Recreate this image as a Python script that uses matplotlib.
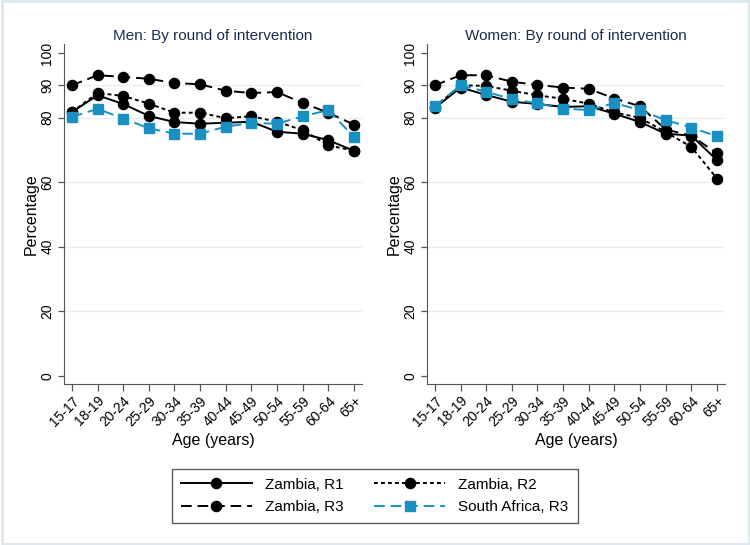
import numpy as np
import matplotlib.pyplot as plt
from matplotlib.patches import Rectangle

plt.rcParams['font.family'] = ['Liberation Sans', 'DejaVu Sans']

# Age groups on the x axis
ages = ['15-17', '18-19', '20-24', '25-29', '30-34', '35-39',
        '40-44', '45-49', '50-54', '55-59', '60-64', '65+']

# Men (percentages)
men_r1 = [81.7, 86.9, 84.2, 80.5, 78.6, 78.1, 78.4, 78.7, 75.6, 75.0, 73.0, 69.7]
men_r2 = [81.7, 87.6, 86.7, 84.3, 81.5, 81.5, 79.8, 80.4, 78.7, 76.1, 71.4, 69.7]
men_r3 = [90.0, 93.1, 92.6, 92.0, 90.7, 90.3, 88.3, 87.6, 87.9, 84.5, 81.5, 77.8]
men_sa = [80.2, 82.7, 79.7, 76.7, 75.0, 75.0, 77.2, 78.3, 78.1, 80.4, 82.3, 74.0]

# Women
women_r1 = [83.0, 89.3, 87.0, 84.9, 84.2, 83.3, 83.5, 81.2, 78.6, 75.0, 74.4, 66.8]
women_r2 = [83.2, 90.0, 89.8, 88.3, 86.9, 85.8, 84.3, 81.6, 79.9, 75.5, 70.9, 61.1]
women_r3 = [90.0, 93.1, 93.1, 91.1, 90.1, 89.3, 88.9, 85.9, 83.5, 76.3, 74.4, 68.9]
women_sa = [83.5, 90.0, 88.0, 85.7, 84.4, 82.8, 82.3, 84.5, 82.3, 79.2, 76.9, 74.2]

blue = '#1a8fc2'
navy = '#1c2d4f'
grid_col = '#e6eef0'

styles = [
    dict(label='Zambia, R1', color='black', ls='-', marker='o'),
    dict(label='Zambia, R2', color='black', ls=(0, (2, 1.6)), marker='o'),
    dict(label='Zambia, R3', color='black', ls=(0, (5.5, 3)), marker='o'),
    dict(label='South Africa, R3', color=blue, ls=(0, (5.5, 3)), marker='s'),
]

fig = plt.figure(figsize=(7.5, 5.45), dpi=100)
fig.patches.append(Rectangle((0.002, 0.002), 0.996, 0.996, transform=fig.transFigure,
                             fill=False, edgecolor='#dde8ec', linewidth=2))

ax1 = fig.add_axes([0.0853, 0.2954, 0.3973, 0.624])
ax2 = fig.add_axes([0.5693, 0.2954, 0.3973, 0.624])

x = np.arange(len(ages))
panels = [
    (ax1, 'Men: By round of intervention', [men_r1, men_r2, men_r3, men_sa]),
    (ax2, 'Women: By round of intervention', [women_r1, women_r2, women_r3, women_sa]),
]

handles = []
for ax, title, series in panels:
    for ys, st in zip(series, styles):
        ms = 7.3 if st['marker'] == 'o' else 6.8
        h, = ax.plot(x, ys, color=st['color'], linestyle=st['ls'], marker=st['marker'],
                     markersize=ms, linewidth=1.4, label=st['label'], zorder=3)
        if ax is ax1:
            handles.append(h)
    ax.set_xlim(-0.31, len(ages) - 1 + 0.31)
    ax.set_ylim(-2.5, 102.8)
    ax.set_yticks([0, 20, 40, 60, 80, 90, 100])
    ax.set_xticks(x)
    ax.set_xticklabels(ages, rotation=45, ha='right', rotation_mode='anchor', fontsize=10)
    for lbl in ax.get_yticklabels():
        lbl.set_rotation(90)
        lbl.set_va('center')
        lbl.set_fontsize(10)
    for yv in [20, 40, 60, 80, 90]:
        ax.axhline(yv, color=grid_col, linewidth=0.9, zorder=0)
    ax.spines['top'].set_visible(False)
    ax.spines['right'].set_visible(False)
    ax.spines['left'].set_color('#555555')
    ax.spines['bottom'].set_color('#555555')
    ax.tick_params(axis='x', color='#555555', length=5, width=0.9, pad=2)
    ax.tick_params(axis='y', color='#555555', length=4, width=0.9, pad=3)
    ax.set_title(title, fontsize=11, color=navy, pad=3)
    ax.set_ylabel('Percentage', fontsize=11.5, labelpad=1)
    ax.set_xlabel('Age (years)', fontsize=11.5, labelpad=3)

order = [0, 2, 1, 3]
leg = fig.legend([handles[i] for i in order], [handles[i].get_label() for i in order],
                 loc='center', bbox_to_anchor=(0.5, 0.09), ncol=2, fontsize=11,
                 frameon=True, fancybox=False, edgecolor='#333333', handlelength=4.6,
                 columnspacing=2.0, borderpad=0.6, labelspacing=0.55, handletextpad=0.9)
leg.get_frame().set_linewidth(1.0)

fig.savefig('out.png', dpi=100, facecolor='white')
